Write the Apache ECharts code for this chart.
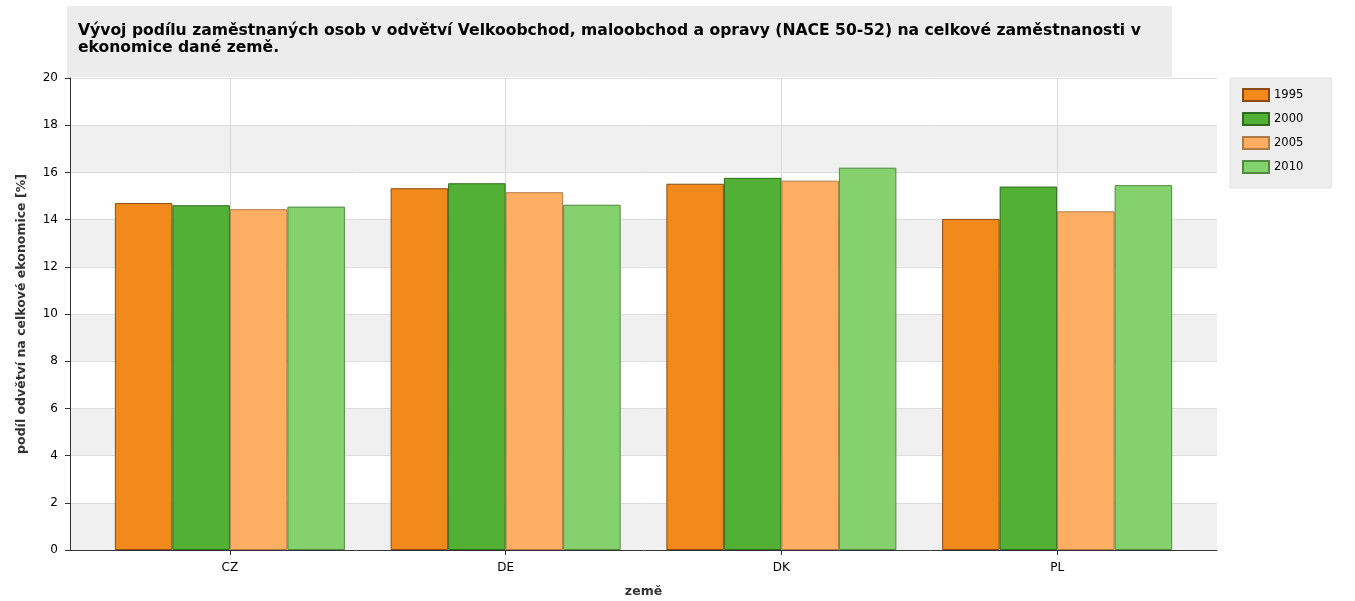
<!DOCTYPE html>
<html><head><meta charset="utf-8">
<script src="https://cdn.jsdelivr.net/npm/echarts@6/dist/echarts.min.js"></script>
<style>html,body{margin:0;padding:0;background:#fff}#c{width:1355px;height:601px}</style>
</head><body><div id="c"></div>
<script>
var categories = ['CZ','DE','DK','PL'];
var years = ['1995','2000','2005','2010'];
var v1995 = [14.7, 15.33, 15.52, 14.03];
var v2000 = [14.61, 15.54, 15.77, 15.4];
var v2005 = [14.44, 15.16, 15.65, 14.35];
var v2010 = [14.55, 14.63, 16.2, 15.46];
var yTicks = [0,2,4,6,8,10,12,14,16,18,20];

var fills = ['#F28A1B','#52B035','#FEAE62','#84D16E'];
var borders = ['#8a4a10','#2f6b1f','#b07a45','#4f8a40'];
var seriesVals = [v1995, v2000, v2005, v2010];
var font = 'DejaVu Sans';

var chart = echarts.init(document.getElementById('c'));
var series = years.map(function(y, i){
  return {
    name: y, type: 'bar', xAxisIndex: 1, yAxisIndex: 1,
    data: seriesVals[i], barWidth: 57.5, barGap: '0%',
    itemStyle: {color: fills[i], borderColor: borders[i], borderWidth: 1},
    emphasis: {disabled: true}
  };
});
chart.setOption({
  animation: false,
  textStyle: {fontFamily: font},
  title: {
    text: 'Vývoj podílu zaměstnaných osob v odvětví Velkoobchod, maloobchod a opravy (NACE 50-52) na celkové zaměstnanosti v\nekonomice dané země.',
    left: 67, top: 6,
    backgroundColor: '#ececec',
    padding: [16, 11, 21, 11],
    textStyle: {fontFamily: font, fontSize: 15.6, fontWeight: 'bold', color: '#000', lineHeight: 17, width: 1083}
  },
  legend: {
    data: years, orient: 'vertical', left: 1230, top: 78,
    backgroundColor: '#eeeeee', borderColor: '#e2e2e2', borderWidth: 1,
    padding: [10, 28, 14, 12], itemGap: 10, itemWidth: 26, itemHeight: 12,
    icon: 'rect', textStyle: {fontFamily: font, fontSize: 11.5, color: '#000'},
    selectedMode: false
  },
  grid: [
    {left: 70, right: 138, top: 78, bottom: 51, containLabel: false, outerBoundsMode: 'none'},
    {left: 92, right: 160, top: 78, bottom: 51, containLabel: false, outerBoundsMode: 'none'}
  ],
  xAxis: [
    {type: 'value', gridIndex: 0, min: 0, max: 1, axisLabel: {show: false}, axisTick: {show: false},
     splitLine: {show: false}, axisLine: {show: true, lineStyle: {color: '#333', width: 1}}},
    {type: 'category', gridIndex: 1, data: categories,
     axisLine: {show: false},
     axisTick: {show: true, alignWithLabel: true, length: 5, lineStyle: {color: '#333'}},
     axisLabel: {fontFamily: font, fontSize: 12, color: '#000', margin: 12},
     splitLine: {show: true, alignWithLabel: true, lineStyle: {color: '#d8d8d8', width: 1}},
     name: 'země', nameLocation: 'middle', nameGap: 35,
     nameTextStyle: {fontFamily: font, fontSize: 12.5, fontWeight: 'bold', color: '#333'}}
  ],
  yAxis: [
    {type: 'value', gridIndex: 0, min: 0, max: 20, interval: 2,
     axisLine: {show: true, lineStyle: {color: '#333', width: 1}},
     axisTick: {show: true, length: 5, lineStyle: {color: '#333'}},
     axisLabel: {fontFamily: font, fontSize: 12, color: '#000', margin: 12,
       formatter: function(v){ return yTicks.indexOf(v) >= 0 ? String(v) : ''; }},
     splitLine: {show: true, lineStyle: {color: '#dcdcdc', width: 1}},
     splitArea: {show: true, areaStyle: {color: ['#f0f0f0', '#ffffff']}},
     name: 'podíl odvětví na celkové ekonomice [%]', nameLocation: 'middle', nameGap: 42, nameRotate: 90,
     nameTextStyle: {fontFamily: font, fontSize: 12.5, fontWeight: 'bold', color: '#333'}},
    {type: 'value', gridIndex: 1, min: 0, max: 20, interval: 2, show: false}
  ],
  series: series
});
</script></body></html>
